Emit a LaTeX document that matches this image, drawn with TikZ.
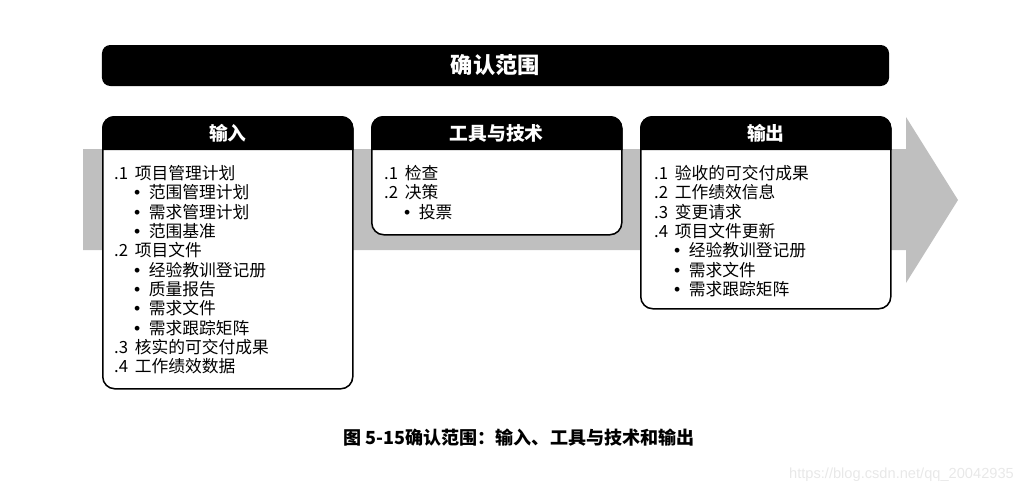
\documentclass[tikz,border=0pt]{standalone}
\usepackage{fontspec}
\setmainfont{Noto Sans CJK SC}
\newfontfamily\urlfont{Liberation Sans}
\usetikzlibrary{positioning,calc}
\definecolor{arrowgray}{HTML}{BFBFBF}
\definecolor{markgray}{HTML}{E8E8E8}

\newcommand{\numitem}[2]{\makebox[0.62cm][l]{#1}#2}
\newcommand{\bulitem}[1]{\hspace*{0.6cm}\makebox[0.44cm][l]{\urlfont\fontsize{15}{16.5}\selectfont •}#1}

\begin{document}
\begin{tikzpicture}[x=0.03cm,y=-0.03cm,
	panel/.style={draw,line width=1.3pt,fill=white,rounded corners=0.36cm,minimum width=7.5cm,anchor=north west,inner sep=0pt},
	hdr/.style={text=white,font=\fontsize{16}{18}\selectfont\bfseries},
	body/.style={anchor=north west,inner sep=0pt,align=left,font=\fontsize{14.3}{16.5}\selectfont}]
	\useasboundingbox (0,0) rectangle (1026,494);

	% grey arrow behind the panels
	\fill[arrowgray] (83,149) -- (906,149) -- (906,117) -- (958,200) -- (906,283) -- (906,250) -- (83,250) -- cycle;

	\node[fill=black,rounded corners=0.25cm,minimum width=23.61cm,minimum height=1.23cm,text=white,font=\fontsize{19}{21}\selectfont\bfseries] (title) at (495.5,65.5) {确认范围};

	% inputs
	\node[panel,minimum height=8.16cm] (in) at (102,116) {};
	\fill[black] ($(in.north west)+(0,34)$) {[rounded corners=0.36cm] -- (in.north west) -- (in.north east)} -- ($(in.north east)+(0,34)$) -- cycle;
	\node[hdr] (inhd) at ($(in.north)+(0,17)$) {输入};
	\node[body] (inlist) at ($(in.north west)+(12,49)$) {%
		\numitem{.1}{项目管理计划}\\
		\bulitem{范围管理计划}\\
		\bulitem{需求管理计划}\\
		\bulitem{范围基准}\\
		\numitem{.2}{项目文件}\\
		\bulitem{经验教训登记册}\\
		\bulitem{质量报告}\\
		\bulitem{需求文件}\\
		\bulitem{需求跟踪矩阵}\\
		\numitem{.3}{核实的可交付成果}\\
		\numitem{.4}{工作绩效数据}};

	% tools and techniques
	\node[panel,minimum height=3.54cm] (tt) at (371,116) {};
	\fill[black] ($(tt.north west)+(0,34)$) {[rounded corners=0.36cm] -- (tt.north west) -- (tt.north east)} -- ($(tt.north east)+(0,34)$) -- cycle;
	\node[hdr] (tthd) at ($(tt.north)+(0,17)$) {工具与技术};
	\node[body] (ttlist) at ($(tt.north west)+(13,49)$) {%
		\numitem{.1}{检查}\\
		\numitem{.2}{决策}\\
		\bulitem{投票}};

	% outputs
	\node[panel,minimum height=5.76cm] (out) at (640,116) {};
	\fill[black] ($(out.north west)+(0,34)$) {[rounded corners=0.36cm] -- (out.north west) -- (out.north east)} -- ($(out.north east)+(0,34)$) -- cycle;
	\node[hdr] (outhd) at ($(out.north)+(0,17)$) {输出};
	\node[body] (outlist) at ($(out.north west)+(14,49)$) {%
		\numitem{.1}{验收的可交付成果}\\
		\numitem{.2}{工作绩效信息}\\
		\numitem{.3}{变更请求}\\
		\numitem{.4}{项目文件更新}\\
		\bulitem{经验教训登记册}\\
		\bulitem{需求文件}\\
		\bulitem{需求跟踪矩阵}};

	\node[font=\fontsize{15.4}{17}\selectfont\bfseries] (caption) at (519,438) {图 5-15确认范围：输入、工具与技术和输出};
	\node[anchor=east,text=markgray,font=\urlfont\fontsize{12.5}{14}\selectfont] (mark) at (1018,475) {https://blog.csdn.net/qq\_20042935};
\end{tikzpicture}
\end{document}
